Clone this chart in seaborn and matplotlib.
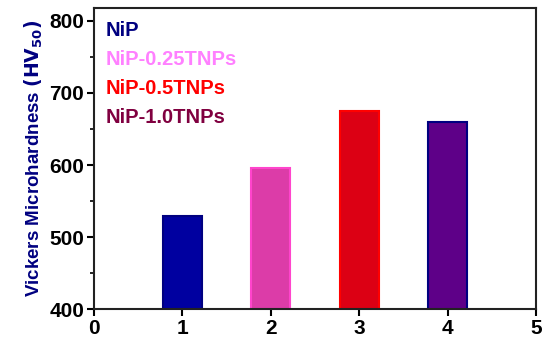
import seaborn as sns
import matplotlib.pyplot as plt
from matplotlib.ticker import MultipleLocator

samples = ['NiP', 'NiP-0.25TNPs', 'NiP-0.5TNPs', 'NiP-1.0TNPs']
positions = [1, 2, 3, 4]
hardness = [530, 596, 675, 660]

fill_colors = ['#0000A0', '#DC3CA8', '#DC0014', '#5E0088']
edge_colors = ['#000080', '#FF44CC', '#FF0000', '#000080']
label_colors = ['#000080', '#FF80FF', '#FF0000', '#800040']

sns.set_style('ticks')
plt.rcParams['font.family'] = ['Liberation Sans', 'DejaVu Sans']
plt.rcParams['font.weight'] = 'bold'

fig, ax = plt.subplots(figsize=(5.5, 3.41), dpi=100)
sns.barplot(x=positions, y=hardness, native_scale=True, width=0.44,
            palette=fill_colors, hue=positions, legend=False, saturation=1,
            ax=ax)
for bar, ec in zip(ax.patches, edge_colors):
    bar.set_edgecolor(ec)
    bar.set_linewidth(1.5)

ax.set_xlim(0, 5)
ax.set_ylim(400, 818)
ax.set_xticks(range(0, 6))
ax.set_yticks(range(400, 801, 100))
ax.yaxis.set_minor_locator(MultipleLocator(50))
ax.tick_params(axis='both', which='major', labelsize=15, width=1.5, length=5,
               direction='out', color='black', labelcolor='black', pad=2)
ax.tick_params(axis='y', which='minor', width=1.2, length=3, color='black')
for lab in ax.get_xticklabels() + ax.get_yticklabels():
    lab.set_fontweight('bold')
for sp in ax.spines.values():
    sp.set_visible(True)
    sp.set_linewidth(1.5)
    sp.set_color('#222222')

ax.set_ylabel(r'Vickers Microhardness $\left(\mathbf{HV_{50}}\right)$',
              color='#000080', fontsize=13.5, fontweight='bold', labelpad=3)

for i, (name, col) in enumerate(zip(samples, label_colors)):
    ax.text(0.027, 0.925 - i * 0.096, name, transform=ax.transAxes, color=col,
            fontsize=14.5, fontweight='bold', va='center', ha='left')

fig.subplots_adjust(left=0.171, right=0.975, top=0.977, bottom=0.093)
fig.savefig('out.png', dpi=100)
